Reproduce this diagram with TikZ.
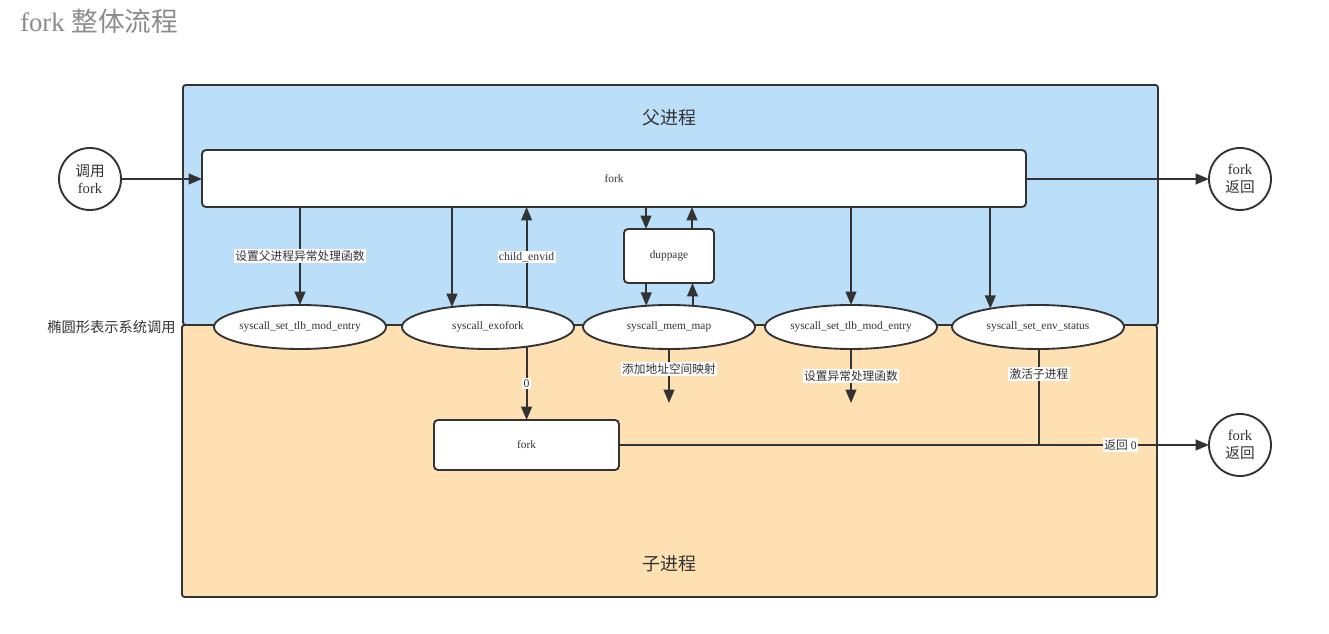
\documentclass[tikz,border=0pt]{standalone}
\usepackage{fontspec}
\setmainfont{Liberation Serif}
\newfontfamily\cjk{Noto Sans CJK SC}
\usetikzlibrary{arrows.meta,shapes.geometric,calc}
\definecolor{pblue}{RGB}{187,222,249}
\definecolor{corange}{RGB}{255,224,178}
\definecolor{ink}{RGB}{51,51,51}
\definecolor{titlegray}{RGB}{140,140,140}
\newcommand{\zh}[1]{{\cjk #1}}
\tikzset{
  lane/.style={draw=ink, line width=1.4pt, rounded corners=2pt},
  box/.style={draw=ink, line width=1.4pt, fill=white, rounded corners=3pt, inner sep=0pt, outer sep=0pt, font=\fontsize{8.5}{10}\selectfont, text=ink},
  sys/.style={ellipse, draw=ink, line width=1.4pt, fill=white, inner sep=0pt, outer sep=0pt, minimum width=129pt, minimum height=33pt, font=\fontsize{8.5}{10}\selectfont, text=ink},
  term/.style={circle, draw=ink, line width=1.4pt, fill=white, inner sep=0pt, outer sep=0pt, minimum size=46.5pt, align=center, font=\fontsize{11}{13}\selectfont, text=ink},
  arr/.style={draw=ink, line width=1.5pt, -{Triangle[length=10pt,width=8pt]}},
  ln/.style={draw=ink, line width=1.5pt},
  lbl/.style={fill=white, inner sep=1pt, font=\fontsize{8.8}{10}\selectfont, text=ink}
}
\begin{document}
\begin{tikzpicture}[x=0.75pt,y=-0.75pt]
\useasboundingbox (0,0) rectangle (1329,634);
\fill[white] (0,0) rectangle (1329,634);
% title
\node[anchor=west, text=titlegray, font=\fontsize{20}{24}\selectfont, inner sep=0pt] (title) at (20,21) {fork \zh{整体流程}};
% lanes
\draw[lane, fill=pblue] (183,85) rectangle (1158,325);
\draw[lane, fill=corange] (182,325) rectangle (1157,597);
\node[font=\fontsize{13.5}{16}\selectfont\cjk, text=ink] (parent) at (669,118) {父进程};
\node[font=\fontsize{13.5}{16}\selectfont\cjk, text=ink] (child) at (669,564) {子进程};
\node[anchor=east, font=\fontsize{10.7}{13}\selectfont\cjk, text=ink, inner sep=0pt] (legend) at (176,327) {椭圆形表示系统调用};
% nodes
\node[box, minimum width=618pt, minimum height=42.75pt] (fork) at (614,178.5) {fork};
\node[box, minimum width=67.5pt, minimum height=40.5pt] (dup) at (669,256) {duppage};
\node[box, minimum width=138.75pt, minimum height=37.5pt] (cfork) at (526.5,445) {fork};
\node[term] (call) at (90,179) {\zh{调用}\\fork};
\node[term] (ret1) at (1240,179) {fork\\\zh{返回}};
\node[term] (ret2) at (1240,445) {fork\\\zh{返回}};
\node[sys] (e1) at (300,327) {syscall\_set\_tlb\_mod\_entry};
\node[sys] (e2) at (488,327) {syscall\_exofork};
\node[sys] (e3) at (669,327) {syscall\_mem\_map};
\node[sys] (e4) at (851,327) {syscall\_set\_tlb\_mod\_entry};
\node[sys] (e5) at (1038,327) {syscall\_set\_env\_status};
% connectors
\draw[arr] (call) -- (fork.west |- call);
\draw[arr] (fork.east |- ret1) -- (ret1);
\draw[arr] (fork.south -| e1.north) -- node[lbl] {\zh{设置父进程异常处理函数}} (e1.north);
\draw[arr] (fork.south -| e2.151.8) -- (e2.151.8);
\draw[arr] (e2.27.4) -- node[lbl] {child\_envid} (fork.south -| e2.27.4);
\coordinate (d1) at ($(dup.north)+(-23,0)$);
\coordinate (d2) at ($(dup.north)+(23,0)$);
\draw[arr] (fork.south -| d1) -- (d1);
\draw[arr] (d2) -- (fork.south -| d2);
\draw[arr] (dup.south -| e3.137.3) -- (e3.137.3);
\draw[arr] (e3.42.7) -- (dup.south -| e3.42.7);
\draw[arr] (fork.south -| e4.north) -- (e4.north);
\draw[arr] (fork.south -| e5.159.7) -- (e5.159.7);
\draw[arr] (e2.-27.4) -- node[lbl] {0} (cfork.north -| e2.-27.4);
\coordinate (m3) at (669,403);
\coordinate (m4) at (851,403);
\coordinate (j5) at (1039,445);
\draw[arr] (e3.south) -- node[lbl, pos=0.37] {\zh{添加地址空间映射}} (m3);
\draw[arr] (e4.south) -- node[lbl, pos=0.5] {\zh{设置异常处理函数}} (m4);
\draw[ln] (e5.south -| j5) -- node[lbl, pos=0.26] {\zh{激活子进程}} (j5);
\draw[arr] (cfork.east) -- node[lbl, pos=0.85] {\zh{返回} 0} (ret2);
\end{tikzpicture}
\end{document}
